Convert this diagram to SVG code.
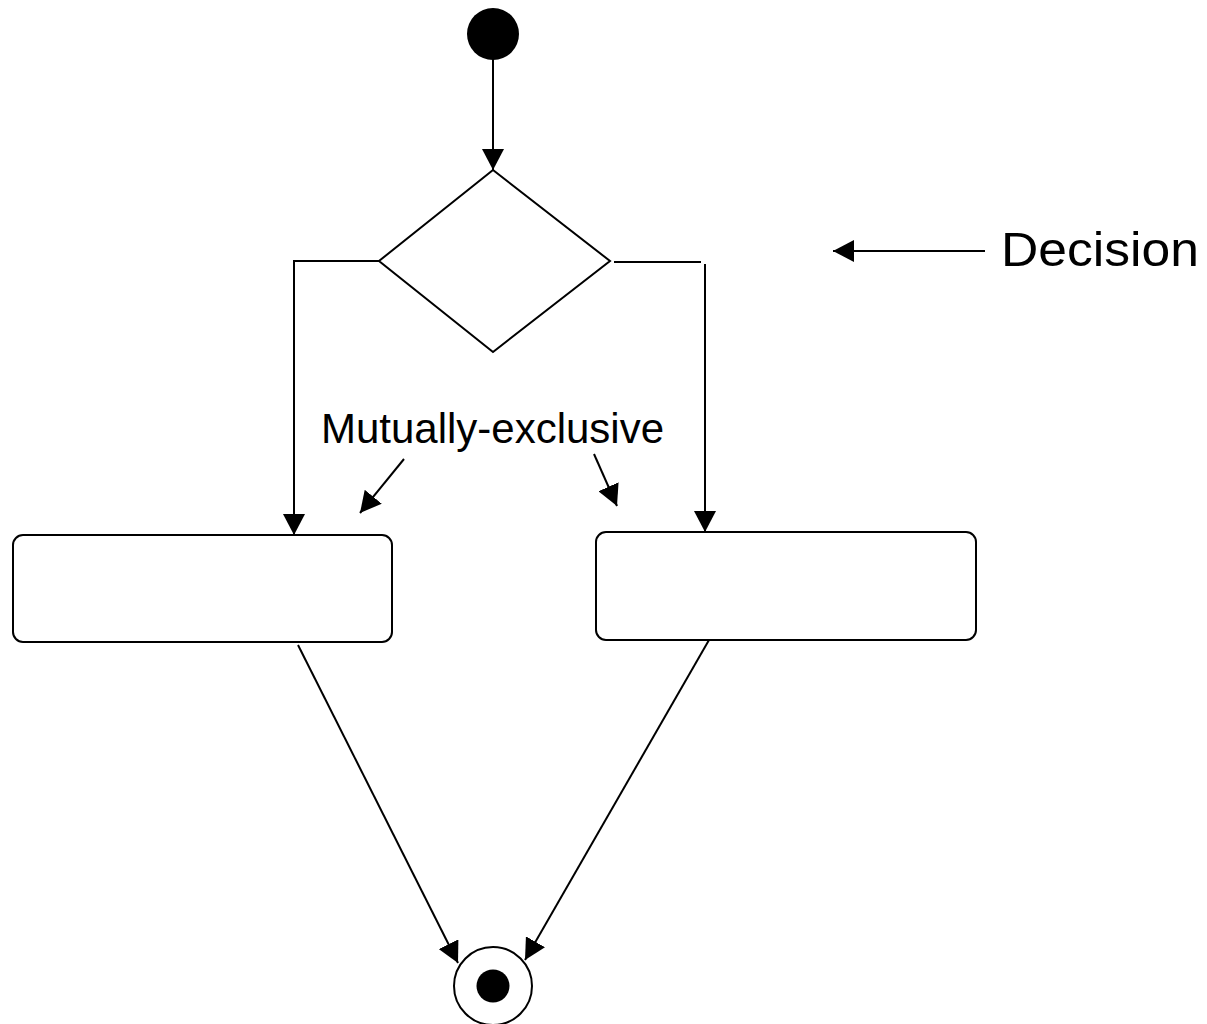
<svg xmlns="http://www.w3.org/2000/svg" width="1207" height="1024" viewBox="0 0 1207 1024">
<style>
.ln{fill:none;stroke:#000;stroke-width:2}
.nd{fill:#fff;stroke:#000;stroke-width:2}
.tx{font-family:"Liberation Sans",Arial,sans-serif;fill:#000}
</style>
<defs>
<marker id="ah" markerUnits="userSpaceOnUse" markerWidth="22" markerHeight="22" viewBox="0 0 22 22" refX="21" refY="11" orient="auto">
<path d="M0,0 L21,11 L0,22 Z" fill="#000"/>
</marker>
</defs>
<rect width="1207" height="1024" fill="#fff"/>
<g id="connectors">
<line class="ln" x1="493" y1="59" x2="493" y2="170" marker-end="url(#ah)"/>
<polyline class="ln" points="379,261 294,261 294,535" marker-end="url(#ah)"/>
<line class="ln" x1="614" y1="262" x2="701" y2="262"/>
<line class="ln" x1="705" y1="264" x2="705" y2="532" marker-end="url(#ah)"/>
<line class="ln" x1="298" y1="645" x2="458" y2="963" marker-end="url(#ah)"/>
<line class="ln" x1="709" y1="640" x2="525" y2="960" marker-end="url(#ah)"/>
<line class="ln" x1="985" y1="251" x2="833" y2="251" marker-end="url(#ah)"/>
<line class="ln" x1="404" y1="459" x2="360" y2="513" marker-end="url(#ah)"/>
<line class="ln" x1="594" y1="454" x2="617" y2="506" marker-end="url(#ah)"/>
</g>
<g id="start"><circle cx="493" cy="34" r="26" fill="#000"/></g>
<g id="decision"><polygon class="nd" points="493,170 610,261 493,352 379,261"/></g>
<g id="action1"><rect class="nd" x="13" y="535" width="379" height="107" rx="10"/></g>
<g id="action2"><rect class="nd" x="596" y="532" width="380" height="108" rx="10"/></g>
<g id="end"><circle class="nd" cx="493" cy="986" r="39"/><circle cx="493" cy="986" r="16.5" fill="#000"/></g>
<g id="label-mutual"><text class="tx" x="321" y="443" font-size="42" textLength="343" lengthAdjust="spacingAndGlyphs">Mutually-exclusive</text></g>
<g id="label-decision"><text class="tx" x="1001" y="266" font-size="48" textLength="198" lengthAdjust="spacingAndGlyphs">Decision</text></g>
</svg>
